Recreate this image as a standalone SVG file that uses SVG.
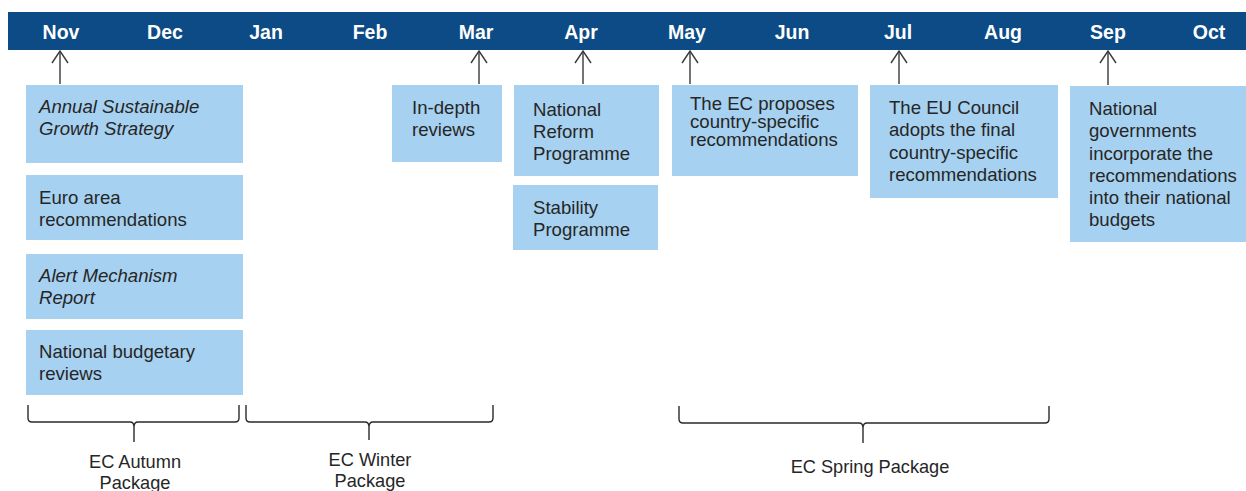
<svg xmlns="http://www.w3.org/2000/svg" width="1246" height="491" viewBox="0 0 1246 491">
  <defs>
    <marker id="chev" viewBox="-1 -1 14 18" refX="12" refY="8" markerWidth="14" markerHeight="18" markerUnits="userSpaceOnUse" orient="auto" overflow="visible">
      <path d="M0,0 L12,8 L0,16" fill="none" stroke="#3a3a3a" stroke-width="1.4"/>
    </marker>
  </defs>
  <style>
    .bar { fill: #0c4b85; }
    .month { font-family: "Liberation Sans", Arial, sans-serif; font-weight: bold; font-size: 19.5px; fill: #ffffff; text-anchor: middle; }
    .box { fill: #a6d1f0; }
    .txt { font-family: "Liberation Sans", Arial, sans-serif; font-size: 18.6px; fill: #262626; }
    .it { font-style: italic; }
    .lbl { font-family: "Liberation Sans", Arial, sans-serif; font-size: 18.2px; fill: #262626; text-anchor: middle; }
    .arrow { stroke: #3a3a3a; stroke-width: 1.4; fill: none; marker-end: url(#chev); }
    .brace { stroke: #2a2a2a; stroke-width: 1.4; fill: none; }
  </style>

  <!-- month scale -->
  <g id="timeline">
    <rect class="bar" x="8" y="12" width="1238" height="38"/>
    <text class="month" x="61" y="39">Nov</text>
    <text class="month" x="165" y="39">Dec</text>
    <text class="month" x="266" y="39">Jan</text>
    <text class="month" x="370" y="39">Feb</text>
    <text class="month" x="476" y="39">Mar</text>
    <text class="month" x="581" y="39">Apr</text>
    <text class="month" x="687" y="39">May</text>
    <text class="month" x="792" y="39">Jun</text>
    <text class="month" x="898" y="39">Jul</text>
    <text class="month" x="1003" y="39">Aug</text>
    <text class="month" x="1108" y="39">Sep</text>
    <text class="month" x="1209" y="39">Oct</text>
  </g>

  <!-- November outputs -->
  <g id="node-asgs">
    <rect class="box" x="26" y="85" width="217" height="78"/>
    <text class="txt it" x="39" y="113">Annual Sustainable</text>
    <text class="txt it" x="39" y="135">Growth Strategy</text>
  </g>
  <g id="node-euro-area">
    <rect class="box" x="26" y="175" width="217" height="65"/>
    <text class="txt" x="39" y="204">Euro area</text>
    <text class="txt" x="39" y="226">recommendations</text>
  </g>
  <g id="node-amr">
    <rect class="box" x="26" y="254" width="217" height="65"/>
    <text class="txt it" x="39" y="282">Alert Mechanism</text>
    <text class="txt it" x="39" y="304">Report</text>
  </g>
  <g id="node-budget-reviews">
    <rect class="box" x="26" y="330" width="217" height="65"/>
    <text class="txt" x="39" y="358">National budgetary</text>
    <text class="txt" x="39" y="380">reviews</text>
  </g>

  <!-- March -->
  <g id="node-in-depth">
    <rect class="box" x="392" y="85" width="110" height="77"/>
    <text class="txt" x="412" y="114">In-depth</text>
    <text class="txt" x="412" y="136">reviews</text>
  </g>

  <!-- April -->
  <g id="node-nrp">
    <rect class="box" x="514" y="85" width="145" height="91"/>
    <text class="txt" x="533" y="116">National</text>
    <text class="txt" x="533" y="138">Reform</text>
    <text class="txt" x="533" y="160">Programme</text>
  </g>
  <g id="node-stability">
    <rect class="box" x="513" y="185" width="145" height="65"/>
    <text class="txt" x="533" y="214">Stability</text>
    <text class="txt" x="533" y="236">Programme</text>
  </g>

  <!-- May -->
  <g id="node-ec-proposes">
    <rect class="box" x="672" y="85" width="186" height="91"/>
    <text class="txt" x="690" y="110">The EC proposes</text>
    <text class="txt" x="690" y="128">country-specific</text>
    <text class="txt" x="690" y="146">recommendations</text>
  </g>

  <!-- July -->
  <g id="node-council">
    <rect class="box" x="870" y="85" width="188" height="113"/>
    <text class="txt" x="889" y="114">The EU Council</text>
    <text class="txt" x="889" y="136">adopts the final</text>
    <text class="txt" x="889" y="159">country-specific</text>
    <text class="txt" x="889" y="181">recommendations</text>
  </g>

  <!-- September -->
  <g id="node-national-gov">
    <rect class="box" x="1070" y="86" width="176" height="156"/>
    <text class="txt" x="1089" y="115">National</text>
    <text class="txt" x="1089" y="137">governments</text>
    <text class="txt" x="1089" y="160">incorporate the</text>
    <text class="txt" x="1089" y="182">recommendations</text>
    <text class="txt" x="1089" y="204">into their national</text>
    <text class="txt" x="1089" y="226">budgets</text>
  </g>

  <!-- package groupings -->
  <g id="node-autumn">
    <path class="brace" d="M28,405 L28,418 Q28,422 32,422 L130,422 Q134,422 134,427 L134,442 M239,405 L239,418 Q239,422 235,422 L138,422 Q134,422 134,427"/>
    <text class="lbl" x="135" y="468">EC Autumn</text>
    <text class="lbl" x="135" y="489">Package</text>
  </g>
  <g id="node-winter">
    <path class="brace" d="M246,405 L246,418 Q246,422 250,422 L365,422 Q369,422 369,427 L369,440 M493,405 L493,418 Q493,422 489,422 L373,422 Q369,422 369,427"/>
    <text class="lbl" x="370" y="466">EC Winter</text>
    <text class="lbl" x="370" y="487">Package</text>
  </g>
  <g id="node-spring">
    <path class="brace" d="M679,406 L679,419 Q679,423 683,423 L859,423 Q863,423 863,428 L863,443 M1049,406 L1049,419 Q1049,423 1045,423 L867,423 Q863,423 863,428"/>
    <text class="lbl" x="870" y="473">EC Spring Package</text>
  </g>

  <!-- connectors from boxes to months -->
  <g id="connectors">
    <line class="arrow" x1="60" y1="84" x2="60" y2="51"/>
    <line class="arrow" x1="479" y1="84" x2="479" y2="51"/>
    <line class="arrow" x1="583" y1="84" x2="583" y2="51"/>
    <line class="arrow" x1="690" y1="84" x2="690" y2="51"/>
    <line class="arrow" x1="899" y1="84" x2="899" y2="51"/>
    <line class="arrow" x1="1108" y1="85" x2="1108" y2="51"/>
  </g>
</svg>
